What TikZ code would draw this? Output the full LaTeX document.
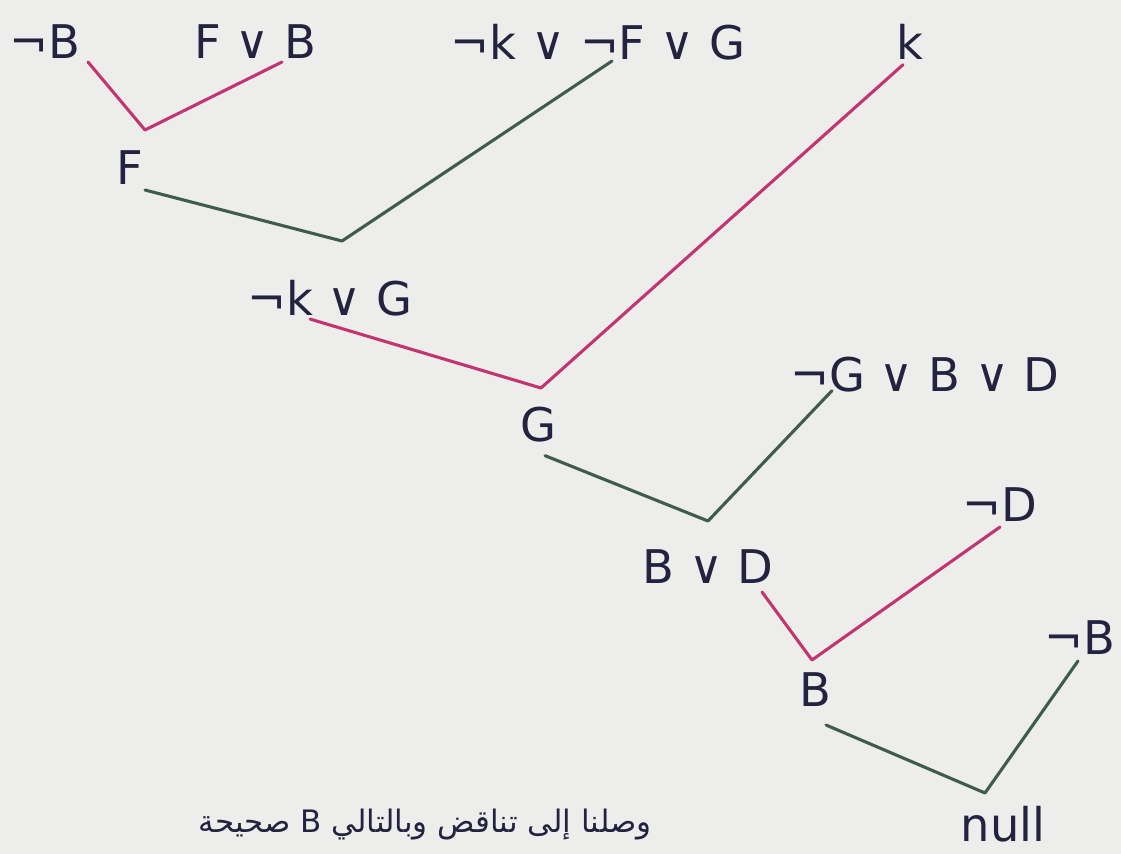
\documentclass[tikz,border=0pt]{standalone}
\usepackage{fontspec}
\setmainfont{DejaVu Sans}
\newfontfamily\arabicfont[Script=Arabic]{DejaVu Sans}
\TeXXeTstate=1
\usetikzlibrary{calc}
\definecolor{paper}{HTML}{EDEEEC}
\definecolor{ink}{HTML}{23233F}
\definecolor{mres}{HTML}{C23570}
\definecolor{mgreen}{HTML}{3F5B4E}
\tikzset{
  clause/.style={text=ink, font=\fontsize{33}{38}\selectfont, inner sep=2pt},
  redge/.style={mres, line width=2.2pt, line cap=round, line join=round},
  gedge/.style={mgreen, line width=2.2pt, line cap=round, line join=round},
}
\begin{document}
\begin{tikzpicture}[x=0.025cm,y=-0.025cm]
  \useasboundingbox[fill=paper] (0,0) rectangle (1121,854);

  % clauses
  \node[clause] (nb1) at (45,42) {¬B};
  \node[clause] (fvb) at (255,42) {F ∨ B};
  \node[clause] (kfg) at (598,42) {¬k ∨ ¬F ∨ G};
  \node[clause] (k) at (910,42) {k};
  \node[clause] (f) at (130,168) {F};
  \node[clause] (kg) at (330,298) {¬k ∨ G};
  \node[clause] (g) at (538,425) {G};
  \node[clause] (gbd) at (925,375) {¬G ∨ B ∨ D};
  \node[clause] (bd) at (708,567) {B ∨ D};
  \node[clause] (nd) at (1000,505) {¬D};
  \node[clause] (b) at (815,690) {B};
  \node[clause] (nb2) at (1080,638) {¬B};
  \node[clause] (null) at (1003,824) {null};
  \node[text=ink, font=\arabicfont\fontsize{22}{28}\selectfont] (msg) at (425,825)
    {\beginR وصلنا إلى تناقض وبالتالي B صحيحة\endR};

  % resolution steps
  \coordinate (v1) at (145,130);
  \coordinate (v2) at (342,241);
  \coordinate (v3) at (541,388);
  \coordinate (v4) at (708,521);
  \coordinate (v5) at (812,660);
  \coordinate (v6) at (985,793);

  \draw[redge] ($(nb1.south)+(43,0)$) -- (v1) -- ($(fvb.south)+(27,0)$);
  \draw[gedge] ($(f.south)+(15,2)$) -- (v2) -- ($(kfg.south)+(14,-2)$);
  \draw[redge] ($(k.south)+(-7,2)$) -- (v3);
  \draw[redge] ($(kg.south)+(-20,0)$) -- (v3);
  \draw[gedge] ($(g.south)+(7,10)$) -- (v4) -- ($(gbd.south)+(-93,-5)$);
  \draw[redge] ($(bd.south)+(54,5)$) -- (v5) -- ($(nd.south)+(0,2)$);
  \draw[gedge] ($(b.south)+(11,15)$) -- (v6) -- ($(nb2.south)+(-2,3)$);
\end{tikzpicture}
\end{document}
